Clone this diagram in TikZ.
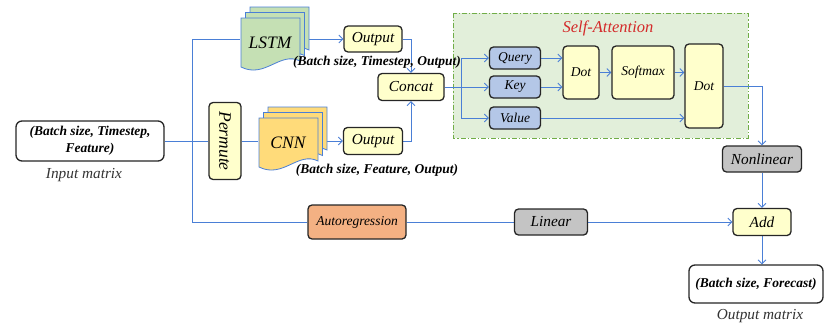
\documentclass[tikz,border=0pt]{standalone}
\usepackage{fontspec}
\setmainfont{Liberation Serif}
\usepackage{graphicx}
\usetikzlibrary{calc, arrows.meta, positioning}
\definecolor{lnblue}{HTML}{4A7FD6}
\definecolor{boxyel}{HTML}{FFFFCC}
\definecolor{boxblue}{HTML}{B4C7E7}
\definecolor{boxgray}{HTML}{C4C4C4}
\definecolor{boxorange}{HTML}{F4B183}
\definecolor{lstmgreen}{HTML}{C5E0B4}
\definecolor{cnnyel}{HTML}{FFDB7A}
\definecolor{attgreen}{HTML}{E2EFDA}
\definecolor{attborder}{HTML}{70AD47}
\definecolor{atttitle}{HTML}{D42A2A}
\tikzset{>={Straight Barb[length=4pt,width=8pt]}}
\pgfdeclarelayer{back}
\pgfdeclarelayer{lines}
\pgfsetlayers{back,lines,main}

\newcommand\fbig{\fontsize{17.5}{20}\selectfont\itshape}
\newcommand\fmid{\fontsize{15.3}{18}\selectfont\itshape}
\newcommand\fsml{\fontsize{13.5}{16}\selectfont\itshape}
\newcommand\fdim{\fontsize{13.5}{17}\selectfont\bfseries\itshape}

\tikzset{
  blk/.style={draw=black!85, line width=1.3pt, rounded corners=4pt,
    fill=boxyel, inner sep=0pt, font=\fmid},
  qkv/.style={blk, fill=boxblue, font=\fsml, minimum width=51pt, minimum height=22pt},
  matbox/.style={blk, fill=white, rounded corners=6pt, font=\fdim, align=center},
  conn/.style={draw=lnblue, line width=0.8pt},
}

\begin{document}
\begin{tikzpicture}[x=1pt,y=-1pt]
  \useasboundingbox (0,0) rectangle (825,327);
  % stacked sheets for LSTM and CNN
  \foreach \cx/\cy/\col in {270/43/lstmgreen, 288/143/cnnyel}
    \foreach \k in {2,1,0}
      \filldraw[fill=\col, draw=lnblue, line width=0.8pt, shift={(\cx+\k*4.5,\cy-\k*5.5)}]
        (-29,-25) -- (30,-25) -- (30,18) .. controls (10,8) and (-5,36) .. (-29,24) -- cycle;

  % input side
  \node[matbox, minimum width=148pt, minimum height=40pt] (inp) at (90,141)
    {(Batch size, Timestep,\\Feature)};
  \node[font=\fmid, text=black!80] (inplab) at (84,175) {Input matrix};
  \node[blk, minimum width=32pt, minimum height=77pt, font=\fbig] (perm) at (225,141)
    {\rotatebox{-90}{Permute}};
  \node[font=\fbig, minimum width=59pt, minimum height=50pt, inner sep=0pt] (lstm) at (270,43) {LSTM};
  \node[font=\fbig, minimum width=59pt, minimum height=50pt, inner sep=0pt] (cnn) at (288,143) {CNN};
  \coordinate (ttop) at (192,39);
  \coordinate (tbot) at (192,222);

  % outputs and concat
  \node[blk, minimum width=58pt, minimum height=26pt] (out1) at (373,39) {Output};
  \node[font=\fdim] (lab1) at (377,62) {(Batch size, Timestep, Output)};
  \node[blk, minimum width=59pt, minimum height=27pt] (out2) at (373,141) {Output};
  \node[font=\fdim] (lab2) at (377,170) {(Batch size, Feature, Output)};
  \node[blk, minimum width=66pt, minimum height=27pt] (concat) at (411,87) {Concat};

  % self-attention block
  \begin{pgfonlayer}{back}
    \draw[fill=attgreen, draw=attborder, line width=0.9pt,
      dash pattern=on 5pt off 2pt on 1.2pt off 2pt] (453,13) rectangle (748,138);
  \end{pgfonlayer}
  \node[font=\fontsize{16.5}{19}\selectfont\itshape, text=atttitle] (atttitle) at (608,28) {Self-Attention};
  \node[qkv] (query) at (515,58) {Query};
  \node[qkv] (key) at (515,87) {Key};
  \node[qkv] (value) at (515,118) {Value};
  \coordinate (br) at (461,87);
  \node[blk, font=\fsml, minimum width=36pt, minimum height=53pt] (dot1) at (581,72.5) {Dot};
  \node[blk, font=\fsml, minimum width=62pt, minimum height=53pt] (softmax) at (643,72.5) {Softmax};
  \node[blk, font=\fsml, minimum width=38pt, minimum height=84pt] (dot2) at (704,86) {Dot};

  % right side
  \node[blk, fill=boxgray, minimum width=79pt, minimum height=26pt] (nonlin) at (762,159) {Nonlinear};
  \node[blk, minimum width=58pt, minimum height=27pt] (add) at (762,222) {Add};
  \node[blk, fill=boxorange, font=\fsml, minimum width=98pt, minimum height=34pt] (auto) at (357,222) {Autoregression};
  \node[blk, fill=boxgray, minimum width=73pt, minimum height=26pt] (linear) at (551,222) {Linear};
  \node[matbox, minimum width=134pt, minimum height=38pt] (outp) at (756,284) {(Batch size, Forecast)};
  \node[font=\fmid, text=black!80] (outlab) at (760,316) {Output matrix};

  % connectors
  \begin{pgfonlayer}{lines}
    \draw[conn] (inp.east) -- (inp.east -| perm.west);
    \draw[conn] (perm.east) -- (perm.east -| cnn.west);
    \draw[conn] (ttop) -- (tbot);
    \draw[conn] (ttop) -- (ttop -| lstm.west);
    \draw[conn,->] (out1.west -| lstm.east) -- (out1.west);
    \draw[conn,->] (out2.west -| cnn.east) -- (out2.west);
    \draw[conn,->] (out1.east) -| (concat.north);
    \draw[conn,->] (out2.east) -| (concat.south);
    \draw[conn,->] (concat.east) -- (key.west);
    \draw[conn,->] (br) |- (query.west);
    \draw[conn,->] (br) |- (value.west);
    \draw[conn,->] (query.east) -- (query.east -| dot1.west);
    \draw[conn,->] (key.east) -- (key.east -| dot1.west);
    \draw[conn,->] (dot1.east) -- (softmax.west);
    \draw[conn,->] (softmax.east) -- (softmax.east -| dot2.west);
    \draw[conn,->] (value.east) -- (value.east -| dot2.west);
    \draw[conn,->] (dot2.east) -| (nonlin.north);
    \draw[conn,->] (nonlin.south) -- (add.north);
    \draw[conn] (tbot) -- (auto.west);
    \draw[conn] (auto.east) -- (linear.west);
    \draw[conn,->] (linear.east) -- (add.west);
    \draw[conn,->] (add.south) -- (add.south |- outp.north);
  \end{pgfonlayer}
\end{tikzpicture}
\end{document}
